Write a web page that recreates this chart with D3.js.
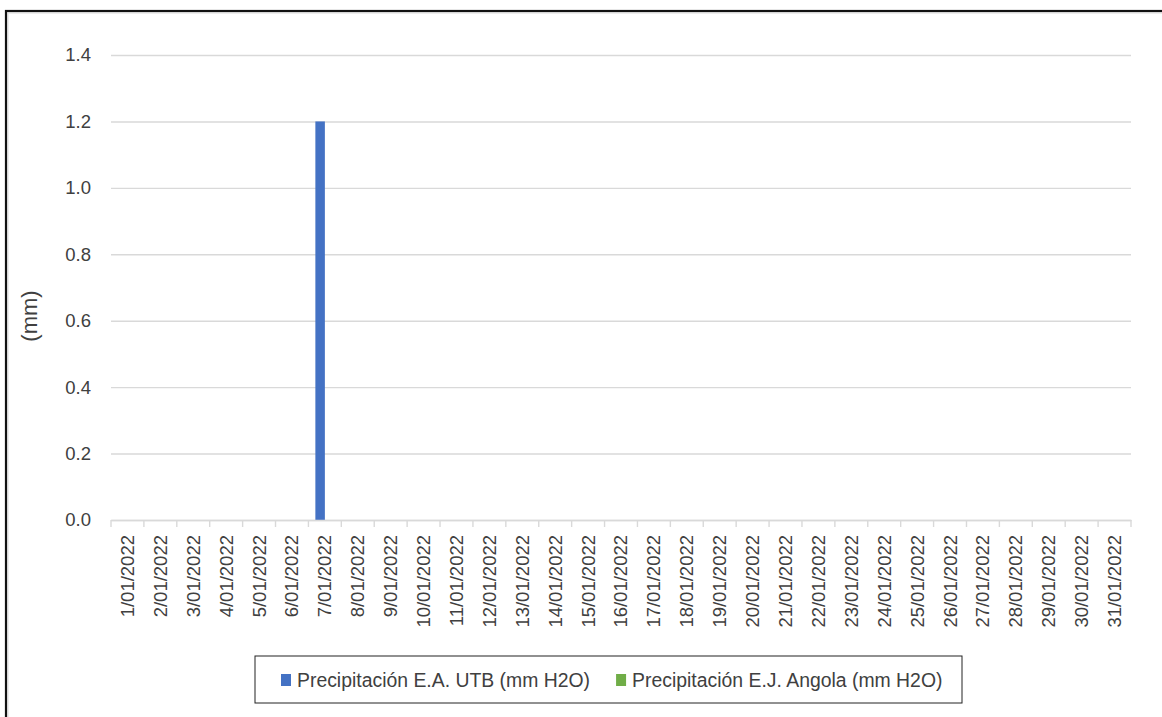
<!DOCTYPE html>
<html>
<head>
<meta charset="utf-8">
<script src="https://cdn.jsdelivr.net/npm/d3@7"></script>
<style>
  html, body { margin: 0; padding: 0; background: #fff; }
  svg { display: block; }
  text { font-family: "Liberation Sans", Arial, sans-serif; fill: #404040; }
</style>
</head>
<body>
<svg id="chart" width="1162" height="717"></svg>
<script>
// ---- data ----
const categories = [
  "1/01/2022","2/01/2022","3/01/2022","4/01/2022","5/01/2022","6/01/2022","7/01/2022",
  "8/01/2022","9/01/2022","10/01/2022","11/01/2022","12/01/2022","13/01/2022","14/01/2022",
  "15/01/2022","16/01/2022","17/01/2022","18/01/2022","19/01/2022","20/01/2022","21/01/2022",
  "22/01/2022","23/01/2022","24/01/2022","25/01/2022","26/01/2022","27/01/2022","28/01/2022",
  "29/01/2022","30/01/2022","31/01/2022"
];
const seriesNames = [
  "Precipitación E.A. UTB (mm H2O)",
  "Precipitación E.J. Angola (mm H2O)"
];
const utbValues = [0,0,0,0,0,0,1.2,0,0,0,0,0,0,0,0,0,0,0,0,0,0,0,0,0,0,0,0,0,0,0,0];
const angolaValues = [0,0,0,0,0,0,0,0,0,0,0,0,0,0,0,0,0,0,0,0,0,0,0,0,0,0,0,0,0,0,0];
const seriesColors = ["#4472C4", "#70AD47"];
const yTicks = [0, 0.2, 0.4, 0.6, 0.8, 1.0, 1.2, 1.4];
const yTitle = "(mm)";

// ---- layout ----
const svg = d3.select("#chart");
const W = 1162, H = 717;
const plot = { left: 111, right: 1131, top: 55, bottom: 520 };

svg.append("rect").attr("x", 0).attr("y", 0).attr("width", W).attr("height", H).attr("fill", "#fff");

// outer frame (cropped at right/bottom)
svg.append("rect").attr("x", 8).attr("y", 13).attr("width", W + 10).attr("height", H + 10)
  .attr("fill", "none").attr("stroke", "#e6e6e6").attr("stroke-width", 1.5);
svg.append("rect").attr("x", 6).attr("y", 11).attr("width", W + 10).attr("height", H + 10)
  .attr("fill", "none").attr("stroke", "#111").attr("stroke-width", 2.2);

const x = d3.scaleBand().domain(categories).range([plot.left, plot.right]).padding(0);
const bw = x.bandwidth();
const gap = bw * 0.211;
const x1 = d3.scaleBand().domain(seriesNames).range([gap, bw - gap]).padding(0);
const y = d3.scaleLinear().domain([0, 1.4]).range([plot.bottom, plot.top]);

// gridlines
const yAxis = d3.axisLeft(y).tickValues(yTicks).tickFormat(d3.format(".1f"))
  .tickSize(-(plot.right - plot.left)).tickPadding(20);
const gy = svg.append("g").attr("transform", `translate(${plot.left},0)`).call(yAxis);
gy.select(".domain").remove();
gy.selectAll(".tick line").attr("stroke", "#d9d9d9").attr("stroke-width", 1.4);
gy.selectAll(".tick text").attr("font-size", 18.5).attr("fill", "#3a3a3a")
  .attr("font-family", "Liberation Sans, Arial, sans-serif");

// bars
const series = [utbValues, angolaValues];
series.forEach((vals, si) => {
  svg.append("g").selectAll("rect").data(vals).join("rect")
    .attr("x", (d, i) => x(categories[i]) + x1(seriesNames[si]))
    .attr("y", d => y(d))
    .attr("width", x1.bandwidth())
    .attr("height", d => y(0) - y(d))
    .attr("fill", seriesColors[si]);
});

// x axis
const xAxis = d3.axisBottom(x).tickSize(0).tickPadding(0);
const gx = svg.append("g").attr("transform", `translate(0,${plot.bottom})`).call(xAxis);
gx.select(".domain").attr("stroke", "#d9d9d9").attr("stroke-width", 1.4);
// category boundary tick marks
const bounds = categories.map(c => x(c)).concat([plot.right]);
gx.selectAll(".bound").data(bounds).join("line").attr("class", "bound")
  .attr("x1", d => d).attr("x2", d => d).attr("y1", 0).attr("y2", 7)
  .attr("stroke", "#d9d9d9").attr("stroke-width", 1.4);
gx.selectAll(".tick text")
  .attr("font-size", 18.5).attr("fill", "#2a2a2a")
  .attr("font-family", "Liberation Sans, Arial, sans-serif")
  .attr("text-anchor", "end")
  .attr("transform", "rotate(-90)")
  .attr("x", -15).attr("y", 0).attr("dy", "0.35em");

// y title
svg.append("text").attr("transform", "translate(37,316) rotate(-90)")
  .attr("text-anchor", "middle").attr("font-size", 22).attr("fill", "#111")
  .text(yTitle);

// legend
const lg = svg.append("g");
lg.append("rect").attr("x", 255).attr("y", 656).attr("width", 707).attr("height", 47)
  .attr("fill", "#fff").attr("stroke", "#222").attr("stroke-width", 1);
let lx = 281;
seriesNames.forEach((name, i) => {
  lg.append("rect").attr("x", lx).attr("y", 674).attr("width", 10).attr("height", 12)
    .attr("fill", seriesColors[i]);
  const t = lg.append("text").attr("x", lx + 16).attr("y", 680).attr("dy", "0.35em")
    .attr("font-size", 19.4).attr("fill", "#111").text(name);
  lx += 16 + t.node().getComputedTextLength() + 26;
});
</script>
</body>
</html>
